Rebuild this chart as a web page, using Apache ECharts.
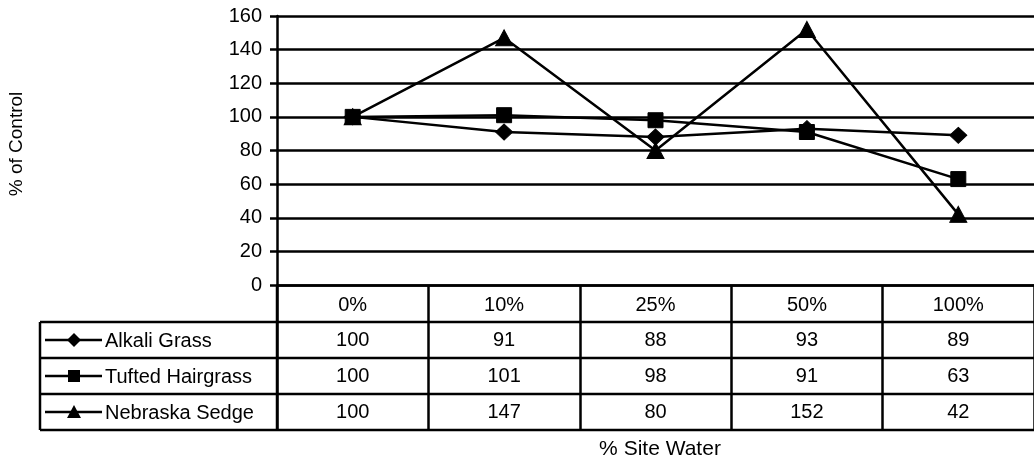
<!DOCTYPE html>
<html>
<head>
<meta charset="utf-8">
<script src="https://cdn.jsdelivr.net/npm/echarts@6/dist/echarts.min.js"></script>
<style>
  html, body { margin: 0; padding: 0; background: #fff; }
  #chart { width: 1034px; height: 464px; }
</style>
</head>
<body>
<div id="chart"></div>
<script>
// Site water dilutions (x categories) and per-species response as % of control
const categories = ['0%', '10%', '25%', '50%', '100%'];
const seriesNames = ['Alkali Grass', 'Tufted Hairgrass', 'Nebraska Sedge'];
const alkaliGrass = [100, 91, 88, 93, 89];
const tuftedHairgrass = [100, 101, 98, 91, 63];
const nebraskaSedge = [100, 147, 80, 152, 42];
const yTicks = [0, 20, 40, 60, 80, 100, 120, 140, 160];

const seriesValues = [alkaliGrass, tuftedHairgrass, nebraskaSedge];
const symbols = ['diamond', 'rect', 'triangle'];
const symbolSizes = [[17, 16], [15, 15], [17, 16]];

const FONT = '"Liberation Sans", Arial, sans-serif';
const INK = '#000';
const LW = 2.5;

const chart = echarts.init(document.getElementById('chart'), null, { renderer: 'canvas' });

// Geometry of the data table under the plot
const tableLeft = 40;
const rowTops = [322, 358, 394, 430]; // boundaries of the three data rows
const axisBottom = 285;
const plotLeft = 277;

const option = {
  animation: false,
  backgroundColor: '#fff',
  textStyle: { fontFamily: FONT, color: INK },
  grid: { left: plotLeft, right: 0, top: 16, bottom: 464 - axisBottom, containLabel: false },
  xAxis: {
    type: 'category',
    data: categories,
    boundaryGap: true,
    axisLine: { show: true, lineStyle: { color: INK, width: LW } },
    axisTick: { show: true, length: rowTops[3] - axisBottom, lineStyle: { color: INK, width: LW } },
    axisLabel: { margin: 10, fontSize: 20, color: INK, fontFamily: FONT },
    splitLine: { show: false }
  },
  yAxis: {
    type: 'value',
    min: yTicks[0],
    max: yTicks[yTicks.length - 1],
    interval: yTicks[1] - yTicks[0],
    axisLine: { show: true, lineStyle: { color: INK, width: LW } },
    axisTick: { show: true, length: 7, lineStyle: { color: INK, width: LW } },
    axisLabel: { margin: 15, fontSize: 20, color: INK, fontFamily: FONT },
    splitLine: { show: true, lineStyle: { color: INK, width: LW } }
  },
  series: seriesNames.map((name, i) => ({
    name: name,
    type: 'line',
    data: seriesValues[i],
    symbol: symbols[i],
    symbolSize: symbolSizes[i],
    showAllSymbol: true,
    lineStyle: { color: INK, width: LW },
    itemStyle: { color: INK, borderColor: INK },
    z: 3 + i
  }))
};

chart.setOption(option);

// Build the data table (legend keys + values) aligned with the category axis
function buildTable() {
  const els = [];
  const colCenters = categories.map(c => chart.convertToPixel({ xAxisIndex: 0 }, c));
  const W = 1034;
  const rule = (x1, y1, x2, y2) => ({ type: 'line', shape: { x1, y1, x2, y2 },
    style: { stroke: INK, lineWidth: LW }, silent: true });

  // Horizontal rules of the table
  rowTops.forEach(y => els.push(rule(tableLeft, y, W, y)));
  // Left edge of the legend column
  els.push(rule(tableLeft, rowTops[0], tableLeft, rowTops[3]));
  // Right edge of the legend column (continuation of the value axis)
  els.push(rule(plotLeft, axisBottom, plotLeft, rowTops[3]));

  seriesNames.forEach((name, i) => {
    const cy = (rowTops[i] + rowTops[i + 1]) / 2;
    // legend key: line with marker
    els.push(rule(45, cy, 102, cy));
    const mx = 74;
    if (symbols[i] === 'diamond') {
      els.push({ type: 'polygon', shape: { points: [[mx, cy - 7], [mx + 7, cy], [mx, cy + 7], [mx - 7, cy]] },
        style: { fill: INK }, silent: true });
    } else if (symbols[i] === 'rect') {
      els.push({ type: 'rect', shape: { x: mx - 6, y: cy - 6, width: 12, height: 12 },
        style: { fill: INK }, silent: true });
    } else {
      els.push({ type: 'polygon', shape: { points: [[mx, cy - 7], [mx + 7, cy + 6], [mx - 7, cy + 6]] },
        style: { fill: INK }, silent: true });
    }
    els.push({ type: 'text', x: 105, y: cy + 1,
      style: { text: name, fill: INK, font: '20px ' + FONT, align: 'left', verticalAlign: 'middle' }, silent: true });

    // values
    seriesValues[i].forEach((v, j) => {
      els.push({ type: 'text', x: colCenters[j], y: cy,
        style: { text: String(v), fill: INK, font: '20px ' + FONT, align: 'center', verticalAlign: 'middle' }, silent: true });
    });
  });

  // Axis titles
  els.push({ type: 'text', x: 17, y: 144, rotation: Math.PI / 2,
    style: { text: '% of Control', fill: INK, font: '19px ' + FONT, align: 'center', verticalAlign: 'middle' }, silent: true });
  els.push({ type: 'text', x: 660, y: 449,
    style: { text: '% Site Water', fill: INK, font: '21px ' + FONT, align: 'center', verticalAlign: 'middle' }, silent: true });

  chart.setOption({ graphic: { elements: els } });
}

buildTable();
</script>
</body>
</html>
